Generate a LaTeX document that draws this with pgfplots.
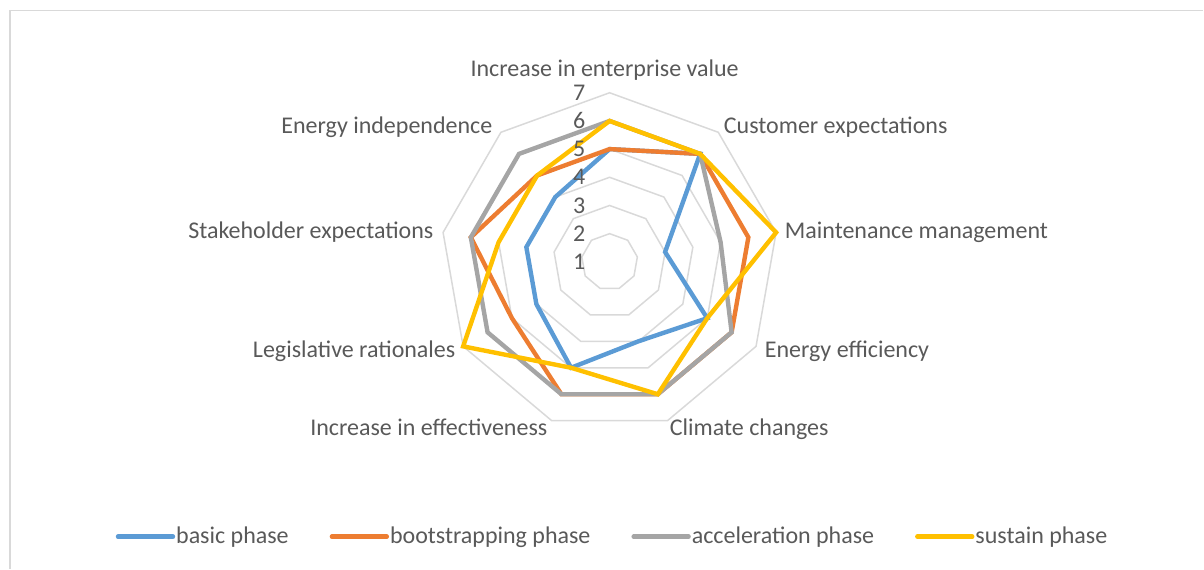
\documentclass[border=0pt]{standalone}
\usepackage{fontspec}
\setmainfont{Carlito}
\usepackage{pgfplots}
\pgfplotsset{compat=1.18}
\usepackage{pgfplotstable}
\definecolor{cBasic}{HTML}{5B9BD5}
\definecolor{cBoot}{HTML}{ED7D31}
\definecolor{cAccel}{HTML}{A5A5A5}
\definecolor{cSust}{HTML}{FFC000}
\definecolor{gridc}{HTML}{D9D9D9}
\definecolor{txt}{HTML}{595959}

% angle of each spoke (degrees), values of each series
\pgfplotstableread{
angle basic boot accel sustain
90    5 5 6 6
50    6 6 6 6
10    3 6 5 7
-30   5 6 6 5
-70   4 6 6 6
-110  5 6 6 5
-150  4 5 6 7
-190  4 6 6 5
-230  4 5 6 5
}\radar

\newcommand{\lblfont}{\fontsize{12}{14}\selectfont}

\begin{document}
\begin{tikzpicture}
\begin{axis}[
  width=602pt, height=284.5pt, scale only axis,
  xmin=-610, xmax=594, ymin=-307, ymax=262,
  axis lines=none, clip=false,
  legend columns=4,
  legend style={at={(0.5087,0.0562)}, anchor=center, draw=none, fill=none,
    font=\lblfont, text=txt, nodes={inner sep=0.5pt},
    /tikz/every even column/.append style={column sep=20pt}},
  legend image code/.code={\draw[#1, line cap=round] (0pt,0pt) -- (27.5pt,0pt);},
]
% full picture area
\path (rel axis cs:0,0) rectangle (rel axis cs:1,1);
% border of chart area
\draw[gridc, line width=0.8pt] (axis cs:-600,-307) -- (axis cs:-600,251.5) -- (axis cs:594,251.5);
% rings (values 2..7)
\pgfplotsinvokeforeach{1,...,6}{
  \addplot[draw=gridc, line width=0.75pt, forget plot]
    table[x expr={#1*28.2*cos(\thisrow{angle})}, y expr={#1*28.2*sin(\thisrow{angle})}] {\radar} -- cycle;
}
\addplot[cBasic, line width=2.2pt]
  table[x expr={(\thisrow{basic}-1)*28.2*cos(\thisrow{angle})}, y expr={(\thisrow{basic}-1)*28.2*sin(\thisrow{angle})}] {\radar} -- cycle;
\addlegendentry{basic phase}
\addplot[cBoot, line width=2.2pt]
  table[x expr={(\thisrow{boot}-1)*28.2*cos(\thisrow{angle})}, y expr={(\thisrow{boot}-1)*28.2*sin(\thisrow{angle})}] {\radar} -- cycle;
\addlegendentry{bootstrapping phase}
\addplot[cAccel, line width=2.2pt]
  table[x expr={(\thisrow{accel}-1)*28.2*cos(\thisrow{angle})}, y expr={(\thisrow{accel}-1)*28.2*sin(\thisrow{angle})}] {\radar} -- cycle;
\addlegendentry{acceleration phase}
\addplot[cSust, line width=2.2pt]
  table[x expr={(\thisrow{sustain}-1)*28.2*cos(\thisrow{angle})}, y expr={(\thisrow{sustain}-1)*28.2*sin(\thisrow{angle})}] {\radar} -- cycle;
\addlegendentry{sustain phase}
% radial value labels
\pgfplotsinvokeforeach{1,...,7}{
  \node[anchor=east, inner sep=0pt, text=txt, font=\lblfont] at (axis cs:-24,{(#1-1)*28.2}) {#1};
}
% category labels
\begin{scope}[every node/.style={text=txt, font=\lblfont, inner sep=0pt}]
\node[anchor=base] at (axis cs:-5,185) {Increase in enterprise value};
\node[anchor=base west] at (axis cs:114,128) {Customer expectations};
\node[anchor=base west] at (axis cs:175,23) {Maintenance management};
\node[anchor=base west] at (axis cs:155,-96) {Energy efficiency};
\node[anchor=base west] at (axis cs:60,-174) {Climate changes};
\node[anchor=base east] at (axis cs:-62,-174) {Increase in effectiveness};
\node[anchor=base east] at (axis cs:-154,-96) {Legislative rationales};
\node[anchor=base east] at (axis cs:-176,23) {Stakeholder expectations};
\node[anchor=base east] at (axis cs:-117,128) {Energy independence};
\end{scope}
\end{axis}
\end{tikzpicture}
\end{document}
